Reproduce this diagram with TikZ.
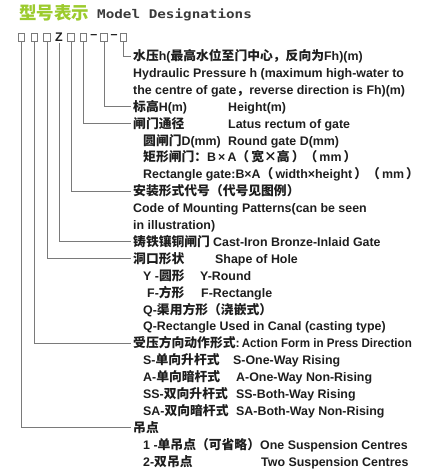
\documentclass[tikz,border=0pt]{standalone}
\usepackage{fontspec}
\usepackage{graphicx}
\setmainfont{Liberation Sans}
\newfontfamily\cjkb{Noto Sans CJK SC Bold}
\newfontfamily\cjkblack{Noto Sans CJK SC Black}
\newfontfamily\monob{DejaVu Sans Mono Bold}
\newcommand{\C}[1]{{\fontsize{12.8}{14}\cjkb #1}}
\definecolor{txt}{HTML}{1E1E1E}
\definecolor{ln}{HTML}{7A7A7A}
\definecolor{ttlgreen}{HTML}{9CCB2E}
\definecolor{ttlgray}{HTML}{3A3A3A}
\begin{document}
\begin{tikzpicture}[x=1pt,y=-1pt,
  row/.style={anchor=west,inner sep=0pt,text height=10.5pt,text depth=1.5pt,
    font=\fontsize{12.4}{14}\selectfont\bfseries,text=txt},
  cbox/.style={draw=ln,fill=white,line width=0.8pt,minimum width=6.5pt,minimum height=8.5pt,inner sep=0pt},
  conn/.style={draw=ln,line width=0.9pt},
  sym/.style={inner sep=0pt,font=\fontsize{12.5}{13}\selectfont\bfseries,text=txt}]
\useasboundingbox (0,0) rectangle (424,472);
% title
\node[anchor=west,inner sep=0pt,text=ttlgreen,font=\fontsize{17.5}{18}\cjkblack] (t1) at (19,13) {型号表示};
\node[anchor=west,inner sep=0pt,text=ttlgray,font=\fontsize{12}{13}\monob] (t2) at (97,14.5) {\scalebox{1.19}[1]{Model Designations}};
% code boxes
\node[cbox] (b1) at (21.5,37.5) {};
\node[cbox] (b2) at (34.5,37.5) {};
\node[cbox] (b3) at (47,37.5) {};
\node[sym] (bz) at (59,37.5) {Z};
\node[cbox] (b5) at (71,37.5) {};
\node[cbox] (b6) at (83.5,37.5) {};
\node[sym] (d1) at (93.8,37) {–};
\node[cbox] (b7) at (104,37.5) {};
\node[sym] (d2) at (114,37) {–};
\node[cbox] (b8) at (123.5,37.5) {};
% rows
\def\ry#1{56+(#1-1)*16.9}
\node[row] (r1) at (133,{\ry{1}}) {\C{水压}h(\C{最高水位至门中心，反向为}Fh)(m)};
\node[row] (r2) at (133,{\ry{2}}) {Hydraulic Pressure h (maximum high-water to};
\node[row] (r3) at (133,{\ry{3}}) {the centre of gate\C{，}reverse direction is Fh)(m)};
\node[row] (r4) at (133,{\ry{4}}) {\C{标高}H(m)};
\node[row] (r4b) at (228,{\ry{4}}) {Height(m)};
\node[row] (r5) at (133,{\ry{5}}) {\C{闸门通径}};
\node[row] (r5b) at (228,{\ry{5}}) {Latus rectum of gate};
\node[row] (r6) at (143,{\ry{6}}) {\C{圆闸门}D(mm)};
\node[row] (r6b) at (228,{\ry{6}}) {Round gate D(mm)};
\node[row] (r7) at (143,{\ry{7}}) {\C{矩形闸门：}B\,×\,A\C{（}\,\C{宽×高}\,\C{）（}\,mm\,\C{）}};
\node[row] (r8) at (143,{\ry{8}}) {Rectangle gate:B×A\C{（}\,width×height\,\C{）（}\,mm\,\C{）}};
\node[row] (r9) at (133,{\ry{9}}) {\C{安装形式代号（代号见图例）}};
\node[row] (r10) at (133,{\ry{10}}) {Code of Mounting Patterns(can be seen};
\node[row] (r11) at (133,{\ry{11}}) {in illustration)};
\node[row] (r12) at (133,{\ry{12}}) {\C{铸铁镶铜闸门}};
\node[row] (r12b) at (213,{\ry{12}}) {Cast-Iron Bronze-Inlaid Gate};
\node[row] (r13) at (133,{\ry{13}}) {\C{洞口形状}};
\node[row] (r13b) at (215,{\ry{13}}) {Shape of Hole};
\node[row] (r14) at (143,{\ry{14}}) {Y -\C{圆形}};
\node[row] (r14b) at (200,{\ry{14}}) {Y-Round};
\node[row] (r15) at (147,{\ry{15}}) {F-\C{方形}};
\node[row] (r15b) at (201,{\ry{15}}) {F-Rectangle};
\node[row] (r16) at (143,{\ry{16}}) {Q-\C{渠用方形（浇嵌式）}};
\node[row] (r17) at (143,{\ry{17}}) {Q-Rectangle Used in Canal (casting type)};
\node[row] (r18) at (133,{\ry{18}}) {\C{受压方向动作形式}:\,\scalebox{0.935}[1]{Action Form in Press Direction}};
\node[row] (r19) at (143,{\ry{19}}) {S-\C{单向升杆式}};
\node[row] (r19b) at (233,{\ry{19}}) {S-One-Way Rising};
\node[row] (r20) at (143,{\ry{20}}) {A-\C{单向暗杆式}};
\node[row] (r20b) at (236,{\ry{20}}) {A-One-Way Non-Rising};
\node[row] (r21) at (143,{\ry{21}}) {SS-\C{双向升杆式}};
\node[row] (r21b) at (236,{\ry{21}}) {SS-Both-Way Rising};
\node[row] (r22) at (143,{\ry{22}}) {SA-\C{双向暗杆式}};
\node[row] (r22b) at (236,{\ry{22}}) {SA-Both-Way Non-Rising};
\node[row] (r23) at (133,{\ry{23}}) {\C{吊点}};
\node[row] (r24) at (143,{\ry{24}}) {1 -\C{单吊点（可省略）}};
\node[row] (r24b) at (260,{\ry{24}}) {One Suspension Centres};
\node[row] (r25) at (143,{\ry{25}}) {2-\C{双吊点}};
\node[row] (r25b) at (261,{\ry{25}}) {Two Suspension Centres};
% connectors
\draw[conn] (b8.south) |- ([xshift=-2.5pt]r1.west);
\draw[conn] (b7.south) |- ([xshift=-2.5pt]r4.west);
\draw[conn] (b6.south) |- ([xshift=-2.5pt]r5.west);
\draw[conn] (b5.south) |- ([xshift=-2.5pt]r9.west);
\draw[conn] ([yshift=-1pt]bz.south) |- ([xshift=-2.5pt]r12.west);
\draw[conn] (b3.south) |- ([xshift=-2.5pt]r13.west);
\draw[conn] (b2.south) |- ([xshift=-2.5pt]r18.west);
\draw[conn] (b1.south) |- ([xshift=-2.5pt]r23.west);
\end{tikzpicture}
\end{document}
